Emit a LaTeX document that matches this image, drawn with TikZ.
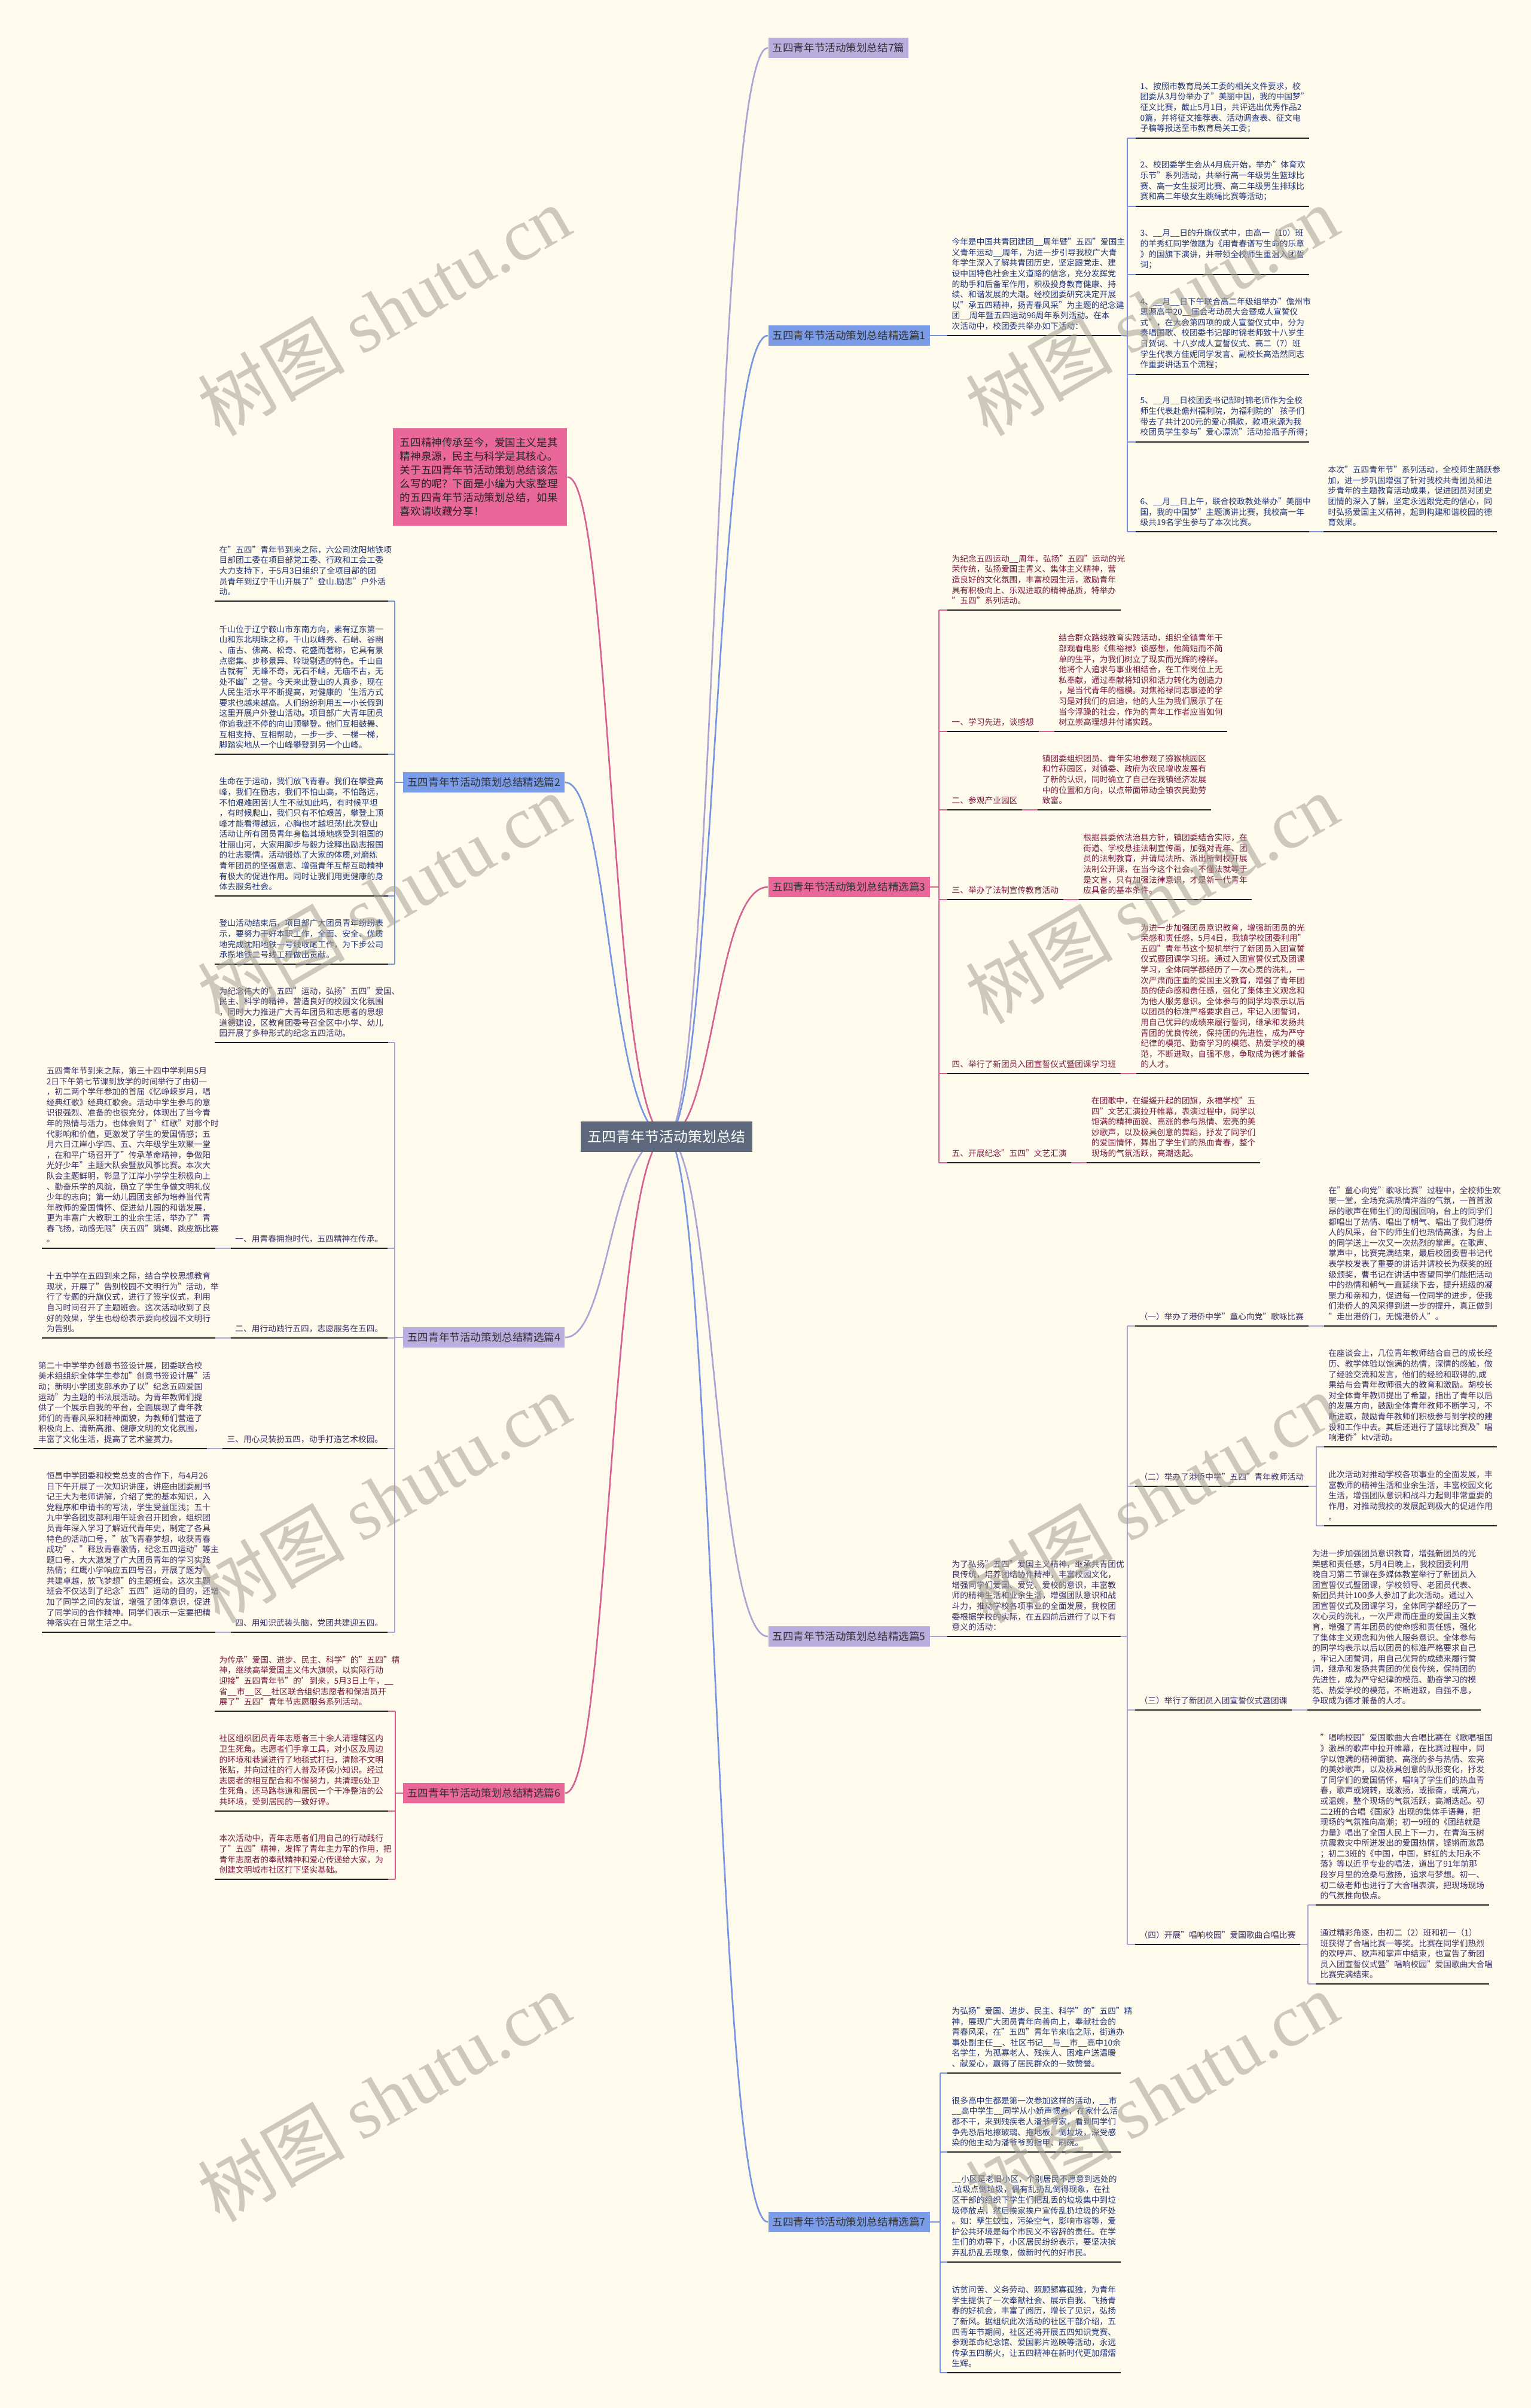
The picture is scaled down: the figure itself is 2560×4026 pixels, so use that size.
\documentclass[tikz,border=0pt]{standalone}
\usepackage{fontspec}
\setmainfont{Noto Sans CJK SC}
\newfontfamily\wmlatin{Liberation Serif}
\usetikzlibrary{positioning}
\definecolor{bgcream}{RGB}{254,251,236}
\definecolor{rootfill}{RGB}{93,104,124}
\definecolor{bluebr}{RGB}{122,156,233}
\definecolor{pinkbr}{RGB}{233,104,153}
\definecolor{lavbr}{RGB}{186,174,223}
\definecolor{blueln}{RGB}{118,148,226}
\definecolor{pinkln}{RGB}{214,98,148}
\definecolor{lavln}{RGB}{172,162,212}
\definecolor{bluetx}{RGB}{34,52,122}
\definecolor{pinktx}{RGB}{122,24,64}
\definecolor{lavtx}{RGB}{60,46,104}
\definecolor{wmgray}{RGB}{164,161,150}
\newcommand\blkfont{\fontsize{3.9pt}{5pt}\selectfont}
\tikzset{
  rootbox/.style={fill=rootfill, text=white, font=\fontsize{6.8pt}{8pt}\selectfont, minimum width=2.87cm, minimum height=0.51cm, inner sep=0},
  branchbox/.style={fill=#1, text=black!80, font=\fontsize{5pt}{6pt}\selectfont, minimum height=0.34cm, inner xsep=0.07cm, inner ysep=0},
  textblk/.style={anchor=south west, text width=2.74cm, inner xsep=0.07cm, inner ysep=0.085cm, align=left, font=\blkfont,
    append after command={(\tikzlastnode.south west) edge[underln] (\tikzlastnode.south east)}},
  lblbox/.style={anchor=south west, inner xsep=0.07cm, inner ysep=0.085cm, font=\blkfont,
    append after command={(\tikzlastnode.south west) edge[underln] (\tikzlastnode.south east)}},
  underln/.style={line width=0.5pt, draw=black!88},
  busln/.style={line width=0.45pt, draw=#1},
  mainln/.style={line width=0.75pt, draw=#1},
  wmark/.style={rotate=30, text=wmgray, opacity=0.55, font=\fontsize{35pt}{40pt}\selectfont, inner sep=0}
}
\begin{document}
\begin{tikzpicture}[x=0.01cm, y=-0.01cm]
\fill[bgcream] (0,0) rectangle (2560,4026);
\useasboundingbox (0,0) rectangle (2560,4026);

\node[branchbox=lavbr, anchor=west] (top) at (1284,80) {五四青年节活动策划总结7篇};

% 精选篇1
\node[branchbox=bluebr, anchor=west] (p1) at (1284,561) {五四青年节活动策划总结精选篇1};
\begin{scope}[text=bluetx]
\node[textblk] (p1i) at (1584,561) {今年是中国共青团建团\_\_周年暨"五四"爱国主\\义青年运动\_\_周年，为进一步引导我校广大青\\年学生深入了解共青团历史，坚定跟党走、建\\设中国特色社会主义道路的信念，充分发挥党\\的助手和后备军作用，积极投身教育健康、持\\续、和谐发展的大潮。经校团委研究决定开展\\以"承五四精神，扬青春风采"为主题的纪念建\\团\_\_周年暨五四运动96周年系列活动。在本\\次活动中，校团委共举办如下活动：};
\node[textblk] (p1a) at (1899,231) {1、按照市教育局关工委的相关文件要求，校\\团委从3月份举办了"美丽中国，我的中国梦"\\征文比赛，截止5月1日，共评选出优秀作品2\\0篇，并将征文推荐表、活动调查表、征文电\\子稿等报送至市教育局关工委；};
\node[textblk] (p1b) at (1899,345) {2、校团委学生会从4月底开始，举办"体育欢\\乐节"系列活动，共举行高一年级男生篮球比\\赛、高一女生拔河比赛、高二年级男生排球比\\赛和高二年级女生跳绳比赛等活动；};
\node[textblk] (p1c) at (1899,459) {3、\_\_月\_\_日的升旗仪式中，由高一（10）班\\的羊秀红同学做题为《用青春谱写生命的乐章\\》的国旗下演讲，并带领全校师生重温入团誓\\词；};
\node[textblk] (p1d) at (1899,626) {4、\_\_月\_\_日下午联合高二年级组举办"儋州市\\思源高中20\_\_届会考动员大会暨成人宣誓仪\\式"，在大会第四项的成人宣誓仪式中，分为\\奏唱国歌、校团委书记郜时锦老师致十八岁生\\日贺词、十八岁成人宣誓仪式、高二（7）班\\学生代表方佳妮同学发言、副校长高浩然同志\\作重要讲话五个流程；};
\node[textblk] (p1e) at (1899,739) {5、\_\_月\_\_日校团委书记郜时锦老师作为全校\\师生代表赴儋州福利院，为福利院的'孩子们\\带去了共计200元的爱心捐款，款项来源为我\\校团员学生参与"爱心漂流"活动拾瓶子所得；};
\node[textblk] (p1f) at (1899,889) {6、\_\_月\_\_日上午，联合校政教处举办"美丽中\\国，我的中国梦"主题演讲比赛，我校高一年\\级共19名学生参与了本次比赛。};
\node[textblk] (p1n) at (2213,889) {本次"五四青年节"系列活动，全校师生踊跃参\\加，进一步巩固增强了针对我校共青团员和进\\步青年的主题教育活动成果，促进团员对团史\\团情的深入了解，坚定永远跟党走的信心，同\\时弘扬爱国主义精神，起到构建和谐校园的德\\育效果。};
\end{scope}
\coordinate (bus1) at (1885,561);
\draw[busln=blueln] (p1.east) -- (p1i.south west);
\draw[busln=blueln] (p1i.south east) -- (bus1);
\draw[busln=blueln] (bus1 |- p1a.south west) -- (bus1 |- p1f.south west);
\foreach \k in {a,...,f} \draw[busln=blueln] (bus1 |- p1\k.south west) -- (p1\k.south west);
\draw[busln=blueln] (p1f.south east) -- (p1n.south west);

% 精选篇3
\node[branchbox=pinkbr, anchor=west] (p3) at (1284,1483) {五四青年节活动策划总结精选篇3};
\begin{scope}[text=pinktx]
\node[textblk] (p3i) at (1584,1020) {为纪念五四运动\_\_周年，弘扬"五四"运动的光\\荣传统，弘扬爱国主青义、集体主义精神，营\\造良好的文化氛围，丰富校园生活，激励青年\\具有积极向上、乐观进取的精神品质，特举办\\"五四"系列活动。};
\node[lblbox] (p3a) at (1584,1223) {一、学习先进，谈感想};
\node[textblk] (p3a1) at ([xshift=0.26cm]p3a.south east) {结合群众路线教育实践活动，组织全镇青年干\\部观看电影《焦裕禄》谈感想，他简短而不简\\单的生平，为我们树立了现实而光辉的榜样。\\他将个人追求与事业相结合，在工作岗位上无\\私奉献，通过奉献将知识和活力转化为创造力\\，是当代青年的楷模。对焦裕禄同志事迹的学\\习是对我们的启迪，他的人生为我们展示了在\\当今浮躁的社会，作为的青年工作者应当如何\\树立崇高理想并付诸实践。};
\node[lblbox] (p3b) at (1584,1354) {二、参观产业园区};
\node[textblk] (p3b1) at ([xshift=0.26cm]p3b.south east) {镇团委组织团员、青年实地参观了猕猴桃园区\\和竹荪园区，对镇委、政府为农民增收发展有\\了新的认识，同时确立了自己在我镇经济发展\\中的位置和方向，以点带面带动全镇农民勤劳\\致富。};
\node[lblbox] (p3c) at (1584,1504) {三、举办了法制宣传教育活动};
\node[textblk] (p3c1) at ([xshift=0.26cm]p3c.south east) {根据县委依法治县方针，镇团委结合实际，在\\街道、学校悬挂法制宣传画，加强对青年、团\\员的法制教育，并请局法所、派出所到校开展\\法制公开课，在当今这个社会，不懂法就等于\\是文盲，只有加强法律意识，才是新一代青年\\应具备的基本条件。};
\node[lblbox] (p3d) at (1584,1795) {四、举行了新团员入团宣誓仪式暨团课学习班};
\node[textblk] (p3d1) at ([xshift=0.26cm]p3d.south east) {为进一步加强团员意识教育，增强新团员的光\\荣感和责任感，5月4日，我镇学校团委利用"\\五四"青年节这个契机举行了新团员入团宣誓\\仪式暨团课学习班。通过入团宣誓仪式及团课\\学习，全体同学都经历了一次心灵的洗礼，一\\次严肃而庄重的爱国主义教育，增强了青年团\\员的使命感和责任感，强化了集体主义观念和\\为他人服务意识。全体参与的同学均表示以后\\以团员的标准严格要求自己，牢记入团誓词，\\用自己优异的成绩来履行誓词，继承和发扬共\\青团的优良传统，保持团的先进性，成为严守\\纪律的模范、勤奋学习的模范、热爱学校的模\\范，不断进取，自强不息，争取成为德才兼备\\的人才。};
\node[lblbox] (p3e) at (1584,1944) {五、开展纪念"五四"文艺汇演};
\node[textblk] (p3e1) at ([xshift=0.26cm]p3e.south east) {在团歌中，在缓缓升起的团旗，永福学校"五\\四"文艺汇演拉开帷幕，表演过程中，同学以\\饱满的精神面貌、高涨的参与热情、宏亮的美\\妙歌声，以及极具创意的舞蹈，抒发了同学们\\的爱国情怀，舞出了学生们的热血青春，整个\\现场的气氛活跃，高潮迭起。};
\end{scope}
\coordinate (bus3) at (1570,1483);
\draw[busln=pinkln] (p3.east) -- (bus3);
\draw[busln=pinkln] (bus3 |- p3i.south west) -- (bus3 |- p3e.south west);
\foreach \k in {i,a,b,c,d,e} \draw[busln=pinkln] (bus3 |- p3\k.south west) -- (p3\k.south west);
\foreach \k in {a,...,e} \draw[busln=pinkln] (p3\k.south east) -- (p3\k1.south west);

% 精选篇5
\node[branchbox=lavbr, anchor=west] (p5) at (1284,2736) {五四青年节活动策划总结精选篇5};
\begin{scope}[text=lavtx]
\node[textblk] (p5i) at (1584,2736) {为了弘扬"五四"爱国主义精神，继承共青团优\\良传统，培养团结协作精神，丰富校园文化，\\增强同学们爱国、爱党、爱校的意识，丰富教\\师的精神生活和业余生活，增强团队意识和战\\斗力，推动学校各项事业的全面发展，我校团\\委根据学校的实际，在五四前后进行了以下有\\意义的活动：};
\node[lblbox] (p5a) at (1898,2217) {（一）举办了港侨中学"童心向党"歌咏比赛};
\node[textblk] (p5a1) at ([xshift=0.26cm]p5a.south east) {在"童心向党"歌咏比赛"过程中，全校师生欢\\聚一堂，全场充满热情洋溢的气氛，一首首激\\昂的歌声在师生们的周围回响，台上的同学们\\都唱出了热情、唱出了朝气、唱出了我们港侨\\人的风采，台下的师生们也热情高涨，为台上\\的同学送上一次又一次热烈的掌声。在歌声、\\掌声中，比赛完满结束，最后校团委曹书记代\\表学校发表了重要的讲话并请校长为获奖的班\\级颁奖，曹书记在讲话中寄望同学们能把活动\\中的热情和朝气一直延续下去，提升班级的凝\\聚力和亲和力，促进每一位同学的进步，使我\\们港侨人的风采得到进一步的提升，真正做到\\"走出港侨门，无愧港侨人"。};
\node[lblbox] (p5b) at (1898,2485) {（二）举办了港侨中学"五四"青年教师活动};
\node[textblk] (p5b1) at ([xshift=0.26cm, yshift=0.66cm]p5b.south east) {在座谈会上，几位青年教师结合自己的成长经\\历、教学体验以饱满的热情，深情的感触，做\\了经验交流和发言，他们的经验和取得的.成\\果给与会青年教师很大的教育和激励。胡校长\\对全体青年教师提出了希望，指出了青年以后\\的发展方向，鼓励全体青年教师不断学习，不\\断进取，鼓励青年教师们积极参与到学校的建\\设和工作中去。其后还进行了篮球比赛及"唱\\响港侨"ktv活动。};
\node[textblk] (p5b2) at ([xshift=0.26cm, yshift=-0.66cm]p5b.south east) {此次活动对推动学校各项事业的全面发展，丰\\富教师的精神生活和业余生活，丰富校园文化\\生活，增强团队意识和战斗力起到非常重要的\\作用，对推动我校的发展起到极大的促进作用\\。};
\node[lblbox] (p5c) at (1898,2859) {（三）举行了新团员入团宣誓仪式暨团课};
\node[textblk] (p5c1) at ([xshift=0.26cm]p5c.south east) {为进一步加强团员意识教育，增强新团员的光\\荣感和责任感，5月4日晚上，我校团委利用\\晚自习第二节课在多媒体教室举行了新团员入\\团宣誓仪式暨团课，学校领导、老团员代表、\\新团员共计100多人参加了此次活动。通过入\\团宣誓仪式及团课学习，全体同学都经历了一\\次心灵的洗礼，一次严肃而庄重的爱国主义教\\育，增强了青年团员的使命感和责任感，强化\\了集体主义观念和为他人服务意识。全体参与\\的同学均表示以后以团员的标准严格要求自己\\，牢记入团誓词，用自己优异的成绩来履行誓\\词，继承和发扬共青团的优良传统，保持团的\\先进性，成为严守纪律的模范、勤奋学习的模\\范、热爱学校的模范，不断进取，自强不息，\\争取成为德才兼备的人才。};
\node[lblbox] (p5d) at (1898,3251) {（四）开展"唱响校园"爱国歌曲合唱比赛};
\node[textblk] (p5d1) at ([xshift=0.26cm, yshift=0.66cm]p5d.south east) {"唱响校园"爱国歌曲大合唱比赛在《歌唱祖国\\》激昂的歌声中拉开帷幕，在比赛过程中，同\\学以饱满的精神面貌、高涨的参与热情、宏亮\\的美妙歌声，以及极具创意的队形变化，抒发\\了同学们的爱国情怀，唱响了学生们的热血青\\春，歌声或婉转，或激扬，或振奋，或高亢，\\或温婉，整个现场的气氛活跃，高潮迭起。初\\二2班的合唱《国家》出现的集体手语舞，把\\现场的气氛推向高潮；初一9班的《团结就是\\力量》唱出了全国人民上下一力，在青海玉树\\抗震救灾中所迸发出的爱国热情，铿锵而激昂\\；初二3班的《中国，中国，鲜红的太阳永不\\落》等以近乎专业的唱法，道出了91年前那\\段岁月里的沧桑与激扬，追求与梦想。初一、\\初二级老师也进行了大合唱表演，把现场现场\\的气氛推向极点。};
\node[textblk] (p5d2) at ([xshift=0.26cm, yshift=-0.66cm]p5d.south east) {通过精彩角逐，由初二（2）班和初一（1）\\班获得了合唱比赛一等奖。比赛在同学们热烈\\的欢呼声、歌声和掌声中结束，也宣告了新团\\员入团宣誓仪式暨"唱响校园"爱国歌曲大合唱\\比赛完满结束。};
\end{scope}
\coordinate (bus5) at (1885,2736);
\draw[busln=lavln] (p5.east) -- (p5i.south west);
\draw[busln=lavln] (p5i.south east) -- (bus5);
\draw[busln=lavln] (bus5 |- p5a.south west) -- (bus5 |- p5d.south west);
\foreach \k in {a,...,d} \draw[busln=lavln] (bus5 |- p5\k.south west) -- (p5\k.south west);
\foreach \k in {a,c} \draw[busln=lavln] (p5\k.south east) -- (p5\k1.south west);
\foreach \k in {b,d} {
  \coordinate (sb\k) at ([xshift=0.13cm]p5\k.south east);
  \draw[busln=lavln] (p5\k.south east) -- (sb\k);
  \draw[busln=lavln] (sb\k |- p5\k1.south west) -- (sb\k |- p5\k2.south west);
  \draw[busln=lavln] (sb\k |- p5\k1.south west) -- (p5\k1.south west);
  \draw[busln=lavln] (sb\k |- p5\k2.south west) -- (p5\k2.south west);
}

% 精选篇7
\node[branchbox=bluebr, anchor=west] (p7) at (1284,3715) {五四青年节活动策划总结精选篇7};
\begin{scope}[text=bluetx]
\node[textblk] (p7a) at (1584,3466) {为弘扬"爱国、进步、民主、科学"的"五四"精\\神，展现广大团员青年向善向上，奉献社会的\\青春风采，在"五四"青年节来临之际，街道办\\事处副主任\_\_、社区书记\_\_与\_\_市\_\_高中10余\\名学生，为孤寡老人、残疾人、困难户送温暖\\、献爱心，赢得了居民群众的一致赞誉。};
\node[textblk] (p7b) at (1584,3598) {很多高中生都是第一次参加这样的活动，\_\_市\\\_\_高中学生\_\_同学从小娇声惯养，在家什么活\\都不干，来到残疾老人潘爷爷家，看到同学们\\争先恐后地擦玻璃、拖地板、倒垃圾，深受感\\染的他主动为潘爷爷剪指甲、刷碗。};
\node[textblk] (p7c) at (1584,3782) {\_\_小区是老旧小区，个别居民不愿意到远处的\\.垃圾点倒垃圾，偶有乱扔乱倒得现象，在社\\区干部的组织下学生们把乱丢的垃圾集中到垃\\圾停放点，然后挨家挨户宣传乱扔垃圾的坏处\\。如：孳生蚊虫，污染空气，影响市容等，爱\\护公共环境是每个市民义不容辞的责任。在学\\生们的劝导下，小区居民纷纷表示，要坚决摈\\弃乱扔乱丢现象，做新时代的好市民。};
\node[textblk] (p7d) at (1584,3967) {访贫问苦、义务劳动、照顾鳏寡孤独，为青年\\学生提供了一次奉献社会、展示自我、飞扬青\\春的好机会，丰富了阅历，增长了见识，弘扬\\了新风。据组织此次活动的社区干部介绍，五\\四青年节期间，社区还将开展五四知识竞赛、\\参观革命纪念馆、爱国影片巡映等活动，永远\\传承五四薪火，让五四精神在新时代更加熠熠\\生辉。};
\end{scope}
\coordinate (bus7) at (1572,3715);
\draw[busln=blueln] (p7.east) -- (bus7);
\draw[busln=blueln] (bus7 |- p7a.south west) -- (bus7 |- p7d.south west);
\foreach \k in {a,...,d} \draw[busln=blueln] (bus7 |- p7\k.south west) -- (p7\k.south west);

% left side
\node[fill=pinkbr, text=black!85, font=\fontsize{5pt}{6.55pt}\selectfont, text width=2.67cm, inner xsep=0.12cm, minimum height=1.63cm, align=left] (intro) at (802.5,797.5) {五四精神传承至今，爱国主义是其\\精神泉源，民主与科学是其核心。\\关于五四青年节活动策划总结该怎\\么写的呢？下面是小编为大家整理\\的五四青年节活动策划总结，如果\\喜欢请收藏分享！};

% 精选篇2
\node[branchbox=bluebr, anchor=east] (p2) at (945,1308) {五四青年节活动策划总结精选篇2};
\begin{scope}[text=bluetx]
\node[textblk] (p2a) at (359,1005) {在"五四"青年节到来之际，六公司沈阳地铁项\\目部团工委在项目部党工委、行政和工会工委\\大力支持下，于5月3日组织了全项目部的团\\员青年到辽宁千山开展了"登山.励志"户外活\\动。};
\node[textblk] (p2b) at (359,1261) {千山位于辽宁鞍山市东南方向，素有辽东第一\\山和东北明珠之称，千山以峰秀、石峭、谷幽\\、庙古、佛高、松奇、花盛而著称，它具有景\\点密集、步移景异、玲珑剔透的特色。千山自\\古就有"无峰不奇，无石不峭，无庙不古，无\\处不幽"之誉。今天来此登山的人真多，现在\\人民生活水平不断提高，对健康的`生活方式\\要求也越来越高。人们纷纷利用五一小长假到\\这里开展户外登山活动。项目部广大青年团员\\你追我赶不停的向山顶攀登。他们互相鼓舞、\\互相支持、互相帮助，一步一步、一梯一梯，\\脚踏实地从一个山峰攀登到另一个山峰。};
\node[textblk] (p2c) at (359,1498) {生命在于运动，我们放飞青春。我们在攀登高\\峰，我们在励志，我们不怕山高，不怕路远，\\不怕艰难困苦!人生不就如此吗，有时候平坦\\，有时候爬山，我们只有不怕艰苦，攀登上顶\\峰才能看得越远，心胸也才越坦荡!此次登山\\活动让所有团员青年身临其境地感受到祖国的\\壮丽山河，大家用脚步与毅力诠释出励志报国\\的壮志豪情。活动锻炼了大家的体质,对磨练\\青年团员的坚强意志、增强青年互帮互助精神\\有极大的促进作用。同时让我们用更健康的身\\体去服务社会。};
\node[textblk] (p2d) at (359,1612) {登山活动结束后，项目部广大团员青年纷纷表\\示，要努力干好本职工作，全面、安全、优质\\地完成沈阳地铁一号线收尾工作，为下步公司\\承揽地铁二号线工程做出贡献。};
\end{scope}
\coordinate (bus2) at (660,1308);
\draw[busln=blueln] (p2.west) -- (bus2);
\draw[busln=blueln] (bus2 |- p2a.south east) -- (bus2 |- p2d.south east);
\foreach \k in {a,...,d} \draw[busln=blueln] (bus2 |- p2\k.south east) -- (p2\k.south east);

% 精选篇4
\node[branchbox=lavbr, anchor=east] (p4) at (945,2236) {五四青年节活动策划总结精选篇4};
\begin{scope}[text=lavtx]
\node[textblk] (p4i) at (359,1743) {为纪念伟大的"五四"运动，弘扬"五四"爱国、\\民主、科学的精神，营造良好的校园文化氛围\\，同时大力推进广大青年团员和志愿者的思想\\道德建设，区教育团委号召全区中小学、幼儿\\园开展了多种形式的纪念五四活动。};
\node[lblbox, anchor=south east] (p4a) at (648,2087) {一、用青春拥抱时代，五四精神在传承。};
\node[textblk, anchor=south east] (p4a1) at ([xshift=-0.26cm]p4a.south west) {五四青年节到来之际，第三十四中学利用5月\\2日下午第七节课到放学的时间举行了由初一\\，初二两个学年参加的首届《忆峥嵘岁月，唱\\经典红歌》经典红歌会。活动中学生参与的意\\识很强烈、准备的也很充分，体现出了当今青\\年的热情与活力，也体会到了"红歌"对那个时\\代影响和价值，更激发了学生的爱国情感；五\\月六日江岸小学四、五、六年级学生欢聚一堂\\，在和平广场召开了"传承革命精神，争做阳\\光好少年"主题大队会暨放风筝比赛。本次大\\队会主题鲜明，彰显了江岸小学学生积极向上\\、勤奋乐学的风貌，确立了学生争做文明礼仪\\少年的志向；第一幼儿园团支部为培养当代青\\年教师的爱国情怀、促进幼儿园的和谐发展，\\更为丰富广大教职工的业余生活，举办了"青\\春飞扬，动感无限"庆五四"跳绳、跳皮筋比赛\\。};
\node[lblbox, anchor=south east] (p4b) at (648,2237) {二、用行动践行五四，志愿服务在五四。};
\node[textblk, anchor=south east] (p4b1) at ([xshift=-0.26cm]p4b.south west) {十五中学在五四到来之际，结合学校思想教育\\现状，开展了"告别校园不文明行为"活动，举\\行了专题的升旗仪式，进行了签字仪式，利用\\自习时间召开了主题班会。这次活动收到了良\\好的效果，学生也纷纷表示要向校园不文明行\\为告别。};
\node[lblbox, anchor=south east] (p4c) at (648,2422) {三、用心灵装扮五四，动手打造艺术校园。};
\node[textblk, anchor=south east] (p4c1) at ([xshift=-0.26cm]p4c.south west) {第二十中学举办创意书签设计展，团委联合校\\美术组组织全体学生参加"创意书签设计展"活\\动；新明小学团支部承办了以"纪念五四爱国\\运动"为主题的书法展活动。为青年教师们提\\供了一个展示自我的平台，全面展现了青年教\\师们的青春风采和精神面貌，为教师们营造了\\积极向上、清新高雅、健康文明的文化氛围，\\丰富了文化生活，提高了艺术鉴赏力。};
\node[lblbox, anchor=south east] (p4d) at (648,2729) {四、用知识武装头脑，党团共建迎五四。};
\node[textblk, anchor=south east] (p4d1) at ([xshift=-0.26cm]p4d.south west) {恒昌中学团委和校党总支的合作下，与4月26\\日下午开展了一次知识讲座，讲座由团委副书\\记王大为老师讲解，介绍了党的基本知识，入\\党程序和申请书的写法，学生受益匪浅；五十\\九中学各团支部利用午班会召开团会，组织团\\员青年深入学习了解近代青年史，制定了各具\\特色的活动口号，"放飞青春梦想，收获青春\\成功"、"释放青春激情，纪念五四运动"等主\\题口号，大大激发了广大团员青年的学习实践\\热情；红鹰小学响应五四号召，开展了题为"\\共建卓越，放飞梦想"的主题班会。这次主题\\班会不仅达到了纪念"五四"运动的目的，还增\\加了同学之间的友谊，增强了团体意识，促进\\了同学间的合作精神。同学们表示一定要把精\\神落实在日常生活之中。};
\end{scope}
\coordinate (bus4) at (660,2236);
\draw[busln=lavln] (p4.west) -- (bus4);
\draw[busln=lavln] (bus4 |- p4i.south east) -- (bus4 |- p4d.south east);
\foreach \k in {i,a,b,c,d} \draw[busln=lavln] (bus4 |- p4\k.south east) -- (p4\k.south east);
\foreach \k in {a,...,d} \draw[busln=lavln] (p4\k.south west) -- (p4\k1.south east);

% 精选篇6
\node[branchbox=pinkbr, anchor=east] (p6) at (945,2998) {五四青年节活动策划总结精选篇6};
\begin{scope}[text=pinktx]
\node[textblk] (p6a) at (359,2861) {为传承"爱国、进步、民主、科学"的"五四"精\\神，继续高举爱国主义伟大旗帜，以实际行动\\迎接"五四青年节"的'到来，5月3日上午，\_\_\\省\_\_市\_\_区\_\_社区联合组织志愿者和保洁员开\\展了"五四"青年节志愿服务系列活动。};
\node[textblk] (p6b) at (359,3028) {社区组织团员青年志愿者三十余人清理辖区内\\卫生死角。志愿者们手拿工具，对小区及周边\\的环境和巷道进行了地毯式打扫，清除不文明\\张贴，并向过往的行人普及环保小知识。经过\\志愿者的相互配合和不懈努力，共清理6处卫\\生死角，还马路巷道和居民一个干净整洁的公\\共环境，受到居民的一致好评。};
\node[textblk] (p6c) at (359,3142) {本次活动中，青年志愿者们用自己的行动践行\\了"五四"精神，发挥了青年主力军的作用，把\\青年志愿者的奉献精神和爱心传递给大家，为\\创建文明城市社区打下坚实基础。};
\end{scope}
\coordinate (bus6) at (661,2998);
\draw[busln=pinkln] (p6.west) -- (bus6);
\draw[busln=pinkln] (bus6 |- p6a.south east) -- (bus6 |- p6c.south east);
\foreach \k in {a,b,c} \draw[busln=pinkln] (bus6 |- p6\k.south east) -- (p6\k.south east);

% root
\coordinate (rc) at (1114.5,1900.5);
\foreach \b/\c in {top/lavln, p1/blueln, p3/pinkln, p5/lavln, p7/blueln}
  \draw[mainln=\c] (rc) .. controls +(80,0) and +(-89,0) .. (\b.west);
\foreach \b/\c in {intro/pinkln, p2/blueln, p4/lavln, p6/pinkln}
  \draw[mainln=\c] (rc) .. controls +(-95,0) and +(75,0) .. (\b.east);
\node[rootbox] (root) at (rc) {五四青年节活动策划总结};

\foreach \wx/\wy [count=\i] in {642/519, 1926/519, 642/1502, 1926/1502, 642/2504, 1926/2504, 642/3505, 1926/3505}
  \node[wmark] (wm\i) at (\wx,\wy) {树图 {\wmlatin shutu.cn}};
\end{tikzpicture}
\end{document}
